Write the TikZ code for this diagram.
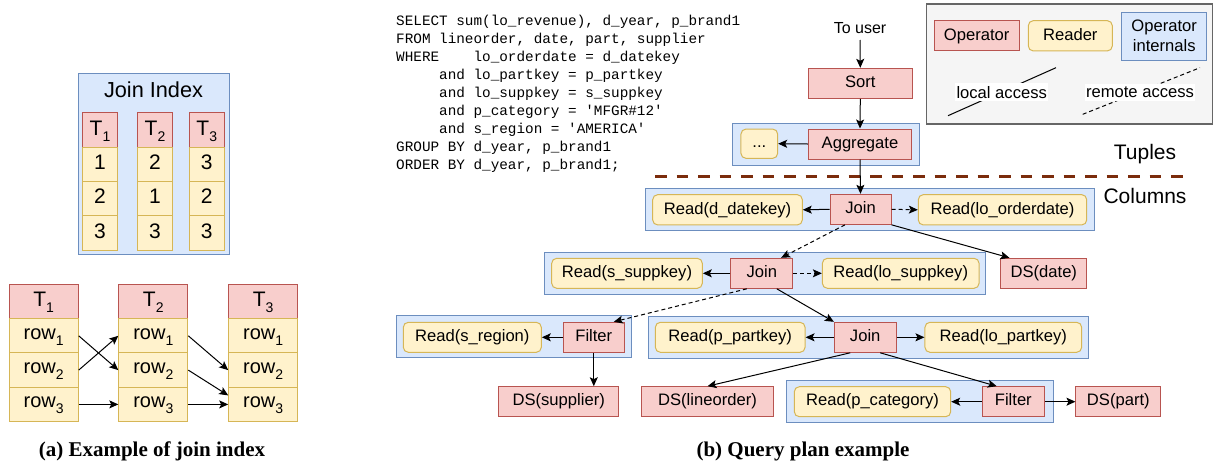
\documentclass[tikz,border=0pt]{standalone}
\usepackage{fontspec}
\setmainfont{Liberation Sans}
\setmonofont{Liberation Mono}
\newfontfamily\capfont{Liberation Serif}
\usetikzlibrary{arrows.meta,calc}
\definecolor{opF}{HTML}{F8CECC}
\definecolor{opD}{HTML}{B85450}
\definecolor{rdF}{HTML}{FFF2CC}
\definecolor{rdD}{HTML}{D6B656}
\definecolor{grF}{HTML}{DAE8FC}
\definecolor{grD}{HTML}{6C8EBF}
\definecolor{lgF}{HTML}{F5F5F5}
\definecolor{lgD}{HTML}{666666}
\definecolor{sepC}{HTML}{7B2C0C}
\newcommand\fs[1]{\fontsize{#1}{#1}\selectfont}
\newcommand\mysub[1]{\raisebox{-0.3em}{\fontsize{14}{14}\selectfont #1}}
\newcommand\sqlsp[1]{\hphantom{#1}}
\tikzset{
  base/.style={draw, line width=1pt, inner sep=0pt, font=\fs{16.6}, text height=12pt, text depth=3.6pt},
  op/.style={base, draw=opD, fill=opF},
  rd/.style={base, draw=rdD, fill=rdF, rounded corners=5pt},
  grp/.style={draw=grD, fill=grF, line width=1pt, inner sep=0pt},
  hcell/.style={draw=opD, fill=opF, line width=1pt, inner sep=0pt, minimum width=35pt, minimum height=34.4pt, font=\fs{21}, text height=15pt, text depth=4.5pt},
  vcell/.style={draw=rdD, fill=rdF, line width=1pt, inner sep=0pt, minimum width=35pt, minimum height=34.4pt, font=\fs{21}, text height=15pt, text depth=4.5pt},
  thead/.style={hcell, minimum width=69pt, minimum height=34.5pt},
  trow/.style={vcell, minimum width=69pt, minimum height=34.3pt, font=\fs{20}, text height=11pt, text depth=4.5pt},
  link/.style={line width=1pt, -{Stealth[length=9pt,width=8pt,inset=2pt]}},
  rlink/.style={link, dash pattern=on 4pt off 3pt},
  sepline/.style={draw=sepC, line width=3pt, dash pattern=on 11.5pt off 10pt},
  sql/.style={anchor=base west, inner sep=0pt, font=\ttfamily\fs{14.33}},
  plain/.style={inner sep=0pt, font=\fs{16.6}},
  bigtxt/.style={inner sep=0pt, font=\fs{21}},
  captxt/.style={inner sep=0pt, font=\capfont\bfseries\fs{21}},
}
\begin{document}
\begin{tikzpicture}[x=1pt,y=-1pt]
\useasboundingbox (0,0) rectangle (1214,466);

% ---------------- (a) join index ----------------
\node[grp, minimum width=151pt, minimum height=181pt] (jibox) at (153.5,163.5) {};
\node[inner sep=0pt, font=\fs{21.7}] (jilabel) at (153.5,90) {Join Index};
\foreach \c/\x/\a/\b/\d in {1/100/1/2/3, 2/155/2/1/3, 3/206.8/3/2/3} {
  \node[hcell] (jh\c) at (\x,129.9) {T\mysub{\c}};
  \node[vcell] (jv\c a) at (\x,164.3) {\a};
  \node[vcell] (jv\c b) at (\x,198.7) {\b};
  \node[vcell] (jv\c c) at (\x,233.1) {\d};
}
\foreach \c/\x in {1/43.7, 2/153.3, 3/263.2} {
  \node[thead] (t\c h) at (\x,301.3) {T\mysub{\c}};
  \node[trow] (t\c r1) at (\x,335.8) {row\mysub{1}};
  \node[trow] (t\c r2) at (\x,370.1) {row\mysub{2}};
  \node[trow] (t\c r3) at (\x,404.4) {row\mysub{3}};
}
\draw[link] (t1r1.east) -- (t2r2.west);
\draw[link] (t1r2.east) -- (t2r1.west);
\draw[link] (t1r3.east) -- (t2r3.west);
\draw[link] (t2r1.east) -- (t3r2.west);
\draw[link] (t2r2.east) -- ($(t3r3.west)+(0,-9)$);
\draw[link] (t2r3.east) -- (t3r3.west);
\node[captxt] (capa) at (152,451) {(a) Example of join index};

% ---------------- SQL ----------------
\node[sql] (q1) at (396,25) {SELECT sum(lo\_revenue), d\_year, p\_brand1};
\node[sql] (q2) at (396,43) {FROM lineorder, date, part, supplier};
\node[sql] (q3) at (396,61) {WHERE\sqlsp{xxxx}lo\_orderdate = d\_datekey};
\node[sql] (q4) at (396,79) {\sqlsp{xxxxx}and lo\_partkey = p\_partkey};
\node[sql] (q5) at (396,97) {\sqlsp{xxxxx}and lo\_suppkey = s\_suppkey};
\node[sql] (q6) at (396,115) {\sqlsp{xxxxx}and p\_category = 'MFGR\#12'};
\node[sql] (q7) at (396,133) {\sqlsp{xxxxx}and s\_region = 'AMERICA'};
\node[sql] (q8) at (396,151) {GROUP BY d\_year, p\_brand1};
\node[sql] (q9) at (396,169) {ORDER BY d\_year, p\_brand1;};

% ---------------- legend ----------------
\node[draw=lgD, fill=lgF, line width=1.2pt, inner sep=0pt, minimum width=285.6pt, minimum height=120pt] (legend) at (1069.5,64) {};
\node[op, minimum width=84.7pt, minimum height=30.3pt] (legop) at (976.7,35.8) {Operator};
\node[rd, minimum width=84pt, minimum height=30.3pt] (legrd) at (1070.3,35.8) {Reader};
\node[grp, minimum width=85pt, minimum height=48pt, align=center, font=\fontsize{16.6}{20}\selectfont] (legint) at (1164.2,36) {Operator\\internals};
\coordinate (la1) at (948,115.7);
\coordinate (la2) at (1056,67.7);
\coordinate (ra1) at (1082.7,114.3);
\coordinate (ra2) at (1200,67.7);
\draw[line width=1pt] (la1) -- (la2);
\draw[line width=1pt, dash pattern=on 4pt off 3pt] (ra1) -- (ra2);
\node[plain, fill=white, inner xsep=1.5pt, inner ysep=3pt] (lalab) at (1001.7,92.3) {local access};
\node[plain, fill=white, inner xsep=1.5pt, inner ysep=3pt] (ralab) at (1140,92.3) {remote access};

% ---------------- query plan ----------------
\node[grp, minimum width=186.7pt, minimum height=42.4pt] (gagg) at (825.7,144.5) {};
\node[grp, minimum width=449pt, minimum height=42.4pt] (g1) at (869.5,209.5) {};
\node[grp, minimum width=441.4pt, minimum height=42pt] (g2) at (765,273.3) {};
\node[grp, minimum width=235pt, minimum height=41.7pt] (g3a) at (513.5,336.8) {};
\node[grp, minimum width=439.6pt, minimum height=41.6pt] (g3b) at (868.5,337.5) {};
\node[grp, minimum width=266.6pt, minimum height=42pt] (g4) at (920,401.7) {};

\node[plain, font=\fs{16}, text height=11.5pt, text depth=3.5pt] (touser) at (860,29.3) {To user};
\node[op, minimum width=104pt, minimum height=30pt] (sort) at (860.3,83.3) {Sort};
\node[op, minimum width=103.4pt, minimum height=30pt] (agg) at (860,144) {Aggregate};
\node[rd, minimum width=36.7pt, minimum height=29.3pt] (dots) at (759.3,143.7) {...};
\node[bigtxt] (tuples) at (1145,154.3) {Tuples};
\node[bigtxt] (columns) at (1145,196) {Columns};
\coordinate (sepL) at (655,176.7);
\coordinate (sepR) at (1185,176.7);
\draw[sepline] (sepL) -- (sepR);

\node[rd, minimum width=149.6pt, minimum height=30.3pt] (rddate) at (727.5,209.8) {Read(d\_datekey)};
\node[op, minimum width=61pt, minimum height=30pt] (join1) at (860.5,209.3) {Join};
\node[rd, minimum width=168.4pt, minimum height=30.3pt] (rdlood) at (1002.5,209.8) {Read(lo\_orderdate)};

\node[rd, minimum width=150.6pt, minimum height=30pt] (rdsupp) at (627,273.3) {Read(s\_suppkey)};
\node[op, minimum width=61.7pt, minimum height=30pt] (join2) at (761.8,273.3) {Join};
\node[rd, minimum width=156.7pt, minimum height=30pt] (rdlosupp) at (900.7,273.3) {Read(lo\_suppkey)};
\node[op, minimum width=85.7pt, minimum height=30pt] (dsdate) at (1043.8,273.3) {DS(date)};

\node[rd, minimum width=138pt, minimum height=30pt] (rdreg) at (472.3,337.3) {Read(s\_region)};
\node[op, minimum width=61pt, minimum height=30pt] (filt1) at (593.8,337.3) {Filter};
\node[rd, minimum width=149.7pt, minimum height=30pt] (rdpart) at (730.2,337.3) {Read(p\_partkey)};
\node[op, minimum width=61.7pt, minimum height=30pt] (join3) at (865.2,337.3) {Join};
\node[rd, minimum width=156.7pt, minimum height=30pt] (rdlopart) at (1003.3,337.3) {Read(lo\_partkey)};

\node[op, minimum width=120pt, minimum height=30pt] (dssupp) at (558.7,401.7) {DS(supplier)};
\node[op, minimum width=131.6pt, minimum height=30pt] (dsline) at (707.5,401.7) {DS(lineorder)};
\node[rd, minimum width=156.4pt, minimum height=30pt] (rdcat) at (872.5,401.7) {Read(p\_category)};
\node[op, minimum width=62pt, minimum height=30pt] (filt2) at (1013.3,401.7) {Filter};
\node[op, minimum width=84.7pt, minimum height=30pt] (dspart) at (1118.3,401.7) {DS(part)};

\draw[link, shorten <=3pt] (touser.south) -- (sort.north);
\draw[link] (sort.south) -- (agg.north);
\draw[link] (agg.west) -- (dots.east);
\draw[link] (agg.south) -- (join1.north);
\draw[link] (join1.west) -- (rddate.east);
\draw[rlink] (join1.east) -- (rdlood.west);
\draw[link] (join1.south east) -- ($(dsdate.north west)+(9,0)$);
\draw[rlink] ($(join1.south)+(-15.5,0)$) -- ($(join2.north east)+(-12,0)$);
\draw[link] (join2.west) -- (rdsupp.east);
\draw[rlink] (join2.east) -- (rdlosupp.west);
\draw[rlink] ($(join2.south)+(-15,0)$) -- ($(filt1.north east)+(-11,0)$);
\draw[link] ($(join2.south)+(15,0)$) -- (join3.north west);
\draw[link] (filt1.west) -- (rdreg.east);
\draw[link] (filt1.south) -- (filt1.south |- dssupp.north);
\draw[link] (join3.west) -- (rdpart.east);
\draw[link] (join3.east) -- (rdlopart.west);
\draw[link] ($(join3.south)+(-15,0)$) -- (dsline.north);
\draw[link] ($(join3.south)+(15,0)$) -- ($(filt2.north)+(-16.6,0)$);
\draw[link] (filt2.west) -- (rdcat.east);
\draw[link] (filt2.east) -- (dspart.west);

\node[captxt] (capb) at (803,451) {(b) Query plan example};
\end{tikzpicture}
\end{document}
